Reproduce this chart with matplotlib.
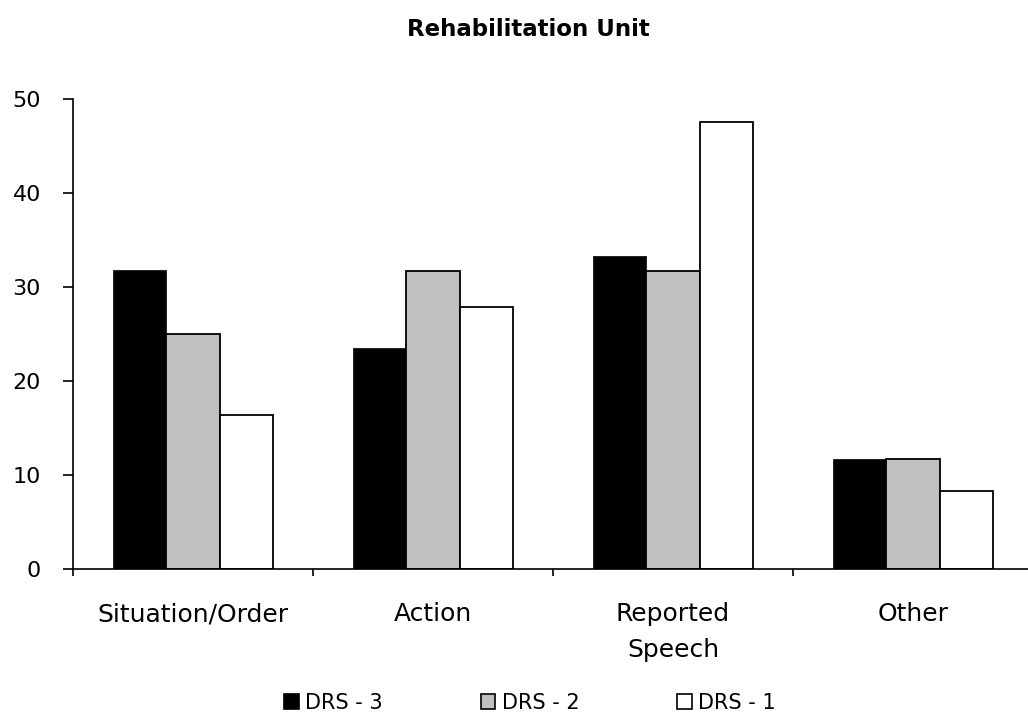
import matplotlib
matplotlib.use("Agg")
import matplotlib.pyplot as plt
import numpy as np
from matplotlib.patches import Patch

categories = ["Situation/Order", "Action", "Reported\nSpeech", "Other"]
series_names = ["DRS - 3", "DRS - 2", "DRS - 1"]
drs3 = [31.8, 23.5, 33.3, 11.7]
drs2 = [25.0, 31.7, 31.7, 11.7]
drs1 = [16.4, 27.9, 47.6, 8.3]
yticks = [0, 10, 20, 30, 40, 50]
title = "Rehabilitation Unit"

colors = ["#000000", "#c0c0c0", "#ffffff"]

plt.rcParams['font.family'] = ['DejaVu Sans']

fig = plt.figure(figsize=(10.28, 7.24), dpi=100)
ax = fig.add_axes([73/1028, (724-569)/724, 960/1028, 470/724])

x = np.arange(len(categories))
w = 0.222
for i, (vals, c) in enumerate(zip([drs3, drs2, drs1], colors)):
    ax.bar(x + (i - 1) * w, vals, width=w, color=c,
           edgecolor="#000000",
           linewidth=1.3 if i > 0 else 0.5, zorder=2)

ax.set_xlim(-0.5, 3.5)
ax.set_ylim(0, 50)
ax.set_yticks(yticks)
ax.set_yticklabels([str(t) for t in yticks], fontsize=16)
ax.set_xticks(np.arange(len(categories) + 1) - 0.5)
ax.set_xticklabels([])
ax.set_xticks(x, minor=True)
ax.set_xticklabels(categories, minor=True, fontsize=18, linespacing=1.6)
ax.tick_params(axis='x', which='minor', length=0, pad=24)
ax.tick_params(axis='x', which='major', length=5, width=1.2, direction='out')
ax.tick_params(axis='y', length=7, width=1.2, direction='out', pad=16)

for s in ["top", "right"]:
    ax.spines[s].set_visible(False)
ax.spines["left"].set_linewidth(1.2)
ax.spines["bottom"].set_linewidth(1.2)
ax.spines["left"].set_zorder(3)
ax.spines["bottom"].set_zorder(3)

fig.text(528/1028, 1 - 30/724, title, ha="center", va="center",
         fontsize=16.5, fontweight="bold")

handles = [Patch(facecolor=c, edgecolor="#000000", linewidth=1.2) for c in colors]
leg = fig.legend(handles, series_names, loc="center", ncol=3,
                 bbox_to_anchor=(530/1028, 1 - 703/724), frameon=False,
                 fontsize=15, handlelength=0.7, handleheight=0.7,
                 handletextpad=0.3, columnspacing=4.7)

fig.savefig("out.png", dpi=100)
